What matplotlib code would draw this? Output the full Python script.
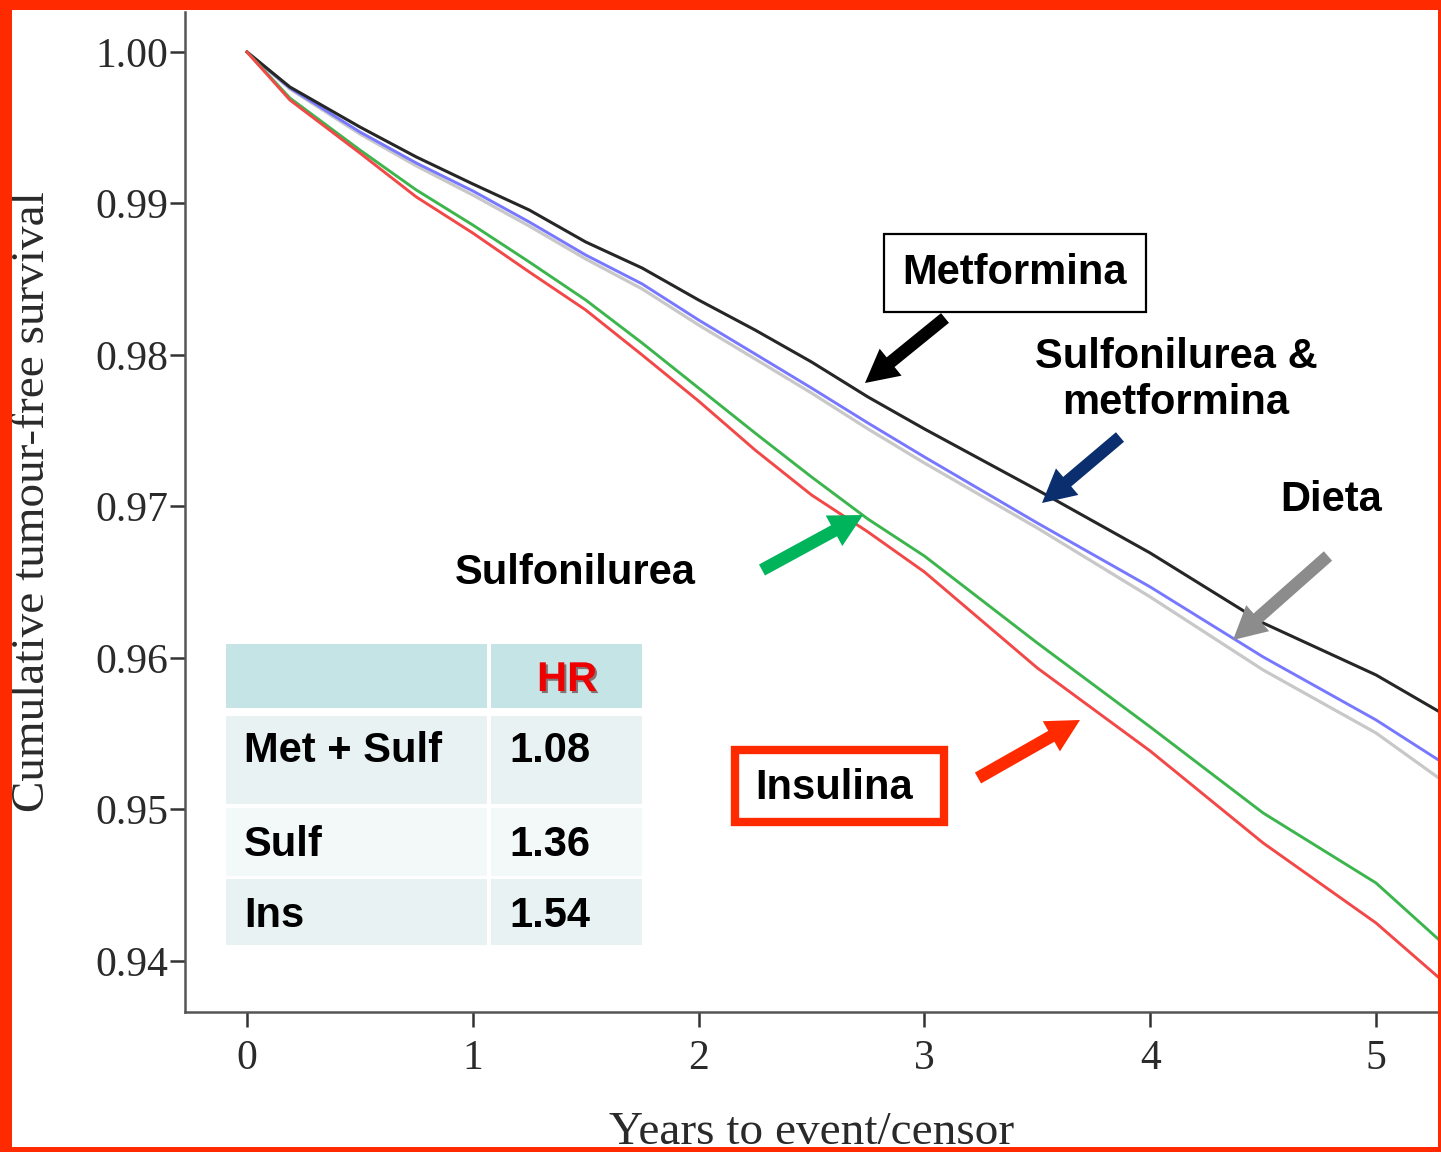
import matplotlib

matplotlib.use("Agg")

import matplotlib.pyplot as plt
import matplotlib.patheffects as pe
from matplotlib.patches import Rectangle

# survival
years = [0.0, 0.19, 0.5, 0.75, 1.0, 1.25, 1.5, 1.75, 2.0, 2.25, 2.5, 2.75,
         3.0, 3.5, 4.0, 4.5, 5.0, 5.29]
metformina = [1.0, 0.99769, 0.99505, 0.99307, 0.99129, 0.98957, 0.98746, 0.98574,
              0.98363, 0.98165, 0.97954, 0.97723, 0.97512, 0.97109, 0.96693,
              0.96231, 0.95888, 0.95637]
sulf_met = [1.0, 0.99762, 0.99472, 0.99267, 0.99083, 0.98878, 0.98660, 0.98469,
            0.98231, 0.98007, 0.97782, 0.97551, 0.97327, 0.96891, 0.96469,
            0.96007, 0.95591, 0.95314]
dieta = [1.0, 0.99756, 0.99459, 0.99248, 0.99056, 0.98851, 0.98634, 0.98436,
         0.98198, 0.97974, 0.97749, 0.97512, 0.97287, 0.96858, 0.96403,
         0.95921, 0.95505, 0.95195]
sulfonilurea = [1.0, 0.99696, 0.99353, 0.99089, 0.98858, 0.98614, 0.98363, 0.98079,
                0.97782, 0.97485, 0.97195, 0.96917, 0.96673, 0.96099, 0.95545,
                0.94977, 0.94515, 0.94125]
insulina = [1.0, 0.99683, 0.99333, 0.99043, 0.98805, 0.98548, 0.98297, 0.98000,
            0.97696, 0.97373, 0.97076, 0.96832, 0.96568, 0.95934, 0.95386,
            0.94779, 0.94251, 0.93875]

y_ticks = [0.94, 0.95, 0.96, 0.97, 0.98, 0.99, 1.00]
x_ticks = [0, 1, 2, 3, 4, 5]

table_rows = ["Met + Sulf", "Sulf", "Ins"]
table_hr = ["1.08", "1.36", "1.54"]

W, H = 1441, 1152
SERIF = "Liberation Serif"
SANS = "Liberation Sans"


def fx(x):
    return x / W


def fy(y):
    return 1 - y / H


fig = plt.figure(figsize=(W / 100, H / 100), dpi=100)
ax = fig.add_axes([fx(185), fy(1012), fx(1441 - 185), (1012 - 12) / H])

ax.plot(years, dieta, color="#c8c8c8", lw=2.3)
ax.plot(years, sulf_met, color="#7878ff", lw=2.1)
ax.plot(years, metformina, color="#262626", lw=2.2)
ax.plot(years, sulfonilurea, color="#3db54d", lw=2.1)
ax.plot(years, insulina, color="#f24848", lw=2.1)

ax.set_xlim(-0.2746, 5.288)
ax.set_ylim(0.93663, 1.00264)
ax.set_xticks(x_ticks)
ax.set_yticks(y_ticks)
ax.set_yticklabels([f"{v:.2f}" for v in y_ticks])
for side in ("top", "right"):
    ax.spines[side].set_visible(False)
for side in ("left", "bottom"):
    ax.spines[side].set_color("#555555")
    ax.spines[side].set_linewidth(1.8)
ax.tick_params(axis="both", colors="#333333", width=1.8, length=11,
               labelsize=30, labelcolor="#2a2a2a")
ax.tick_params(axis="x", pad=9)
ax.tick_params(axis="y", pad=1)
for lab in ax.get_xticklabels() + ax.get_yticklabels():
    lab.set_family(SERIF)

fig.text(fx(33), fy(502), "Cumulative tumour-free survival", rotation=90,
         ha="center", va="center", family=SERIF, fontsize=34, color="#2a2a2a")
fig.text(fx(812), fy(1133), "Years to event/censor", ha="center", va="center",
         family=SERIF, fontsize=34, color="#2a2a2a")

# labels and arrows
bold = dict(family=SANS, fontsize=30, fontweight="bold", color="black")
fig.text(fx(1015), fy(273), "Metformina", ha="center", va="center",
         bbox=dict(boxstyle="square,pad=0.45", fc="white", ec="black", lw=1.6), **bold)
fig.text(fx(1176), fy(380), "Sulfonilurea &\nmetformina", ha="center", va="center",
         linespacing=1.2, **bold)
fig.text(fx(1331), fy(500), "Dieta", ha="center", va="center", **bold)
fig.text(fx(575), fy(573), "Sulfonilurea", ha="center", va="center", **bold)
fig.add_artist(Rectangle((fx(735), fy(822)), fx(209), (822 - 750) / H,
                         transform=fig.transFigure, fc="white", ec="#ff2a00", lw=6))
fig.text(fx(834), fy(788), "Insulina", ha="center", va="center", **bold)

arrows = [
    ((945, 318), (865, 383), "black"),
    ((1120, 437), (1042, 503), "#0b2e6f"),
    ((1328, 556), (1233, 640), "#8c8c8c"),
    ((762, 570), (863, 515), "#00b45c"),
    ((978, 778), (1080, 720), "#ff2a00"),
]
for (x0, y0), (x1, y1), col in arrows:
    ax.annotate("", xy=(fx(x1), fy(y1)), xycoords="figure fraction",
                xytext=(fx(x0), fy(y0)), textcoords="figure fraction",
                arrowprops=dict(arrowstyle="simple,head_width=1.0,head_length=0.95,tail_width=0.36",
                                mutation_scale=25, fc=col, ec=col, lw=0,
                                shrinkA=0, shrinkB=0))

# HR table
col_x = [(226, 487), (491, 642)]
row_y = [(644, 708), (716, 804), (808, 876), (879, 945)]
row_bg = ["#c5e4e6", "#e9f2f3", "#f3f8f9", "#e9f2f3"]
for (y0, y1), bg in zip(row_y, row_bg):
    for x0, x1 in col_x:
        fig.add_artist(Rectangle((fx(x0), fy(y1)), fx(x1 - x0), (y1 - y0) / H,
                                 transform=fig.transFigure, fc=bg, ec="none"))
fig.text(fx(567), fy(680), "HR", ha="center", va="center", family=SANS,
         fontsize=30, fontweight="bold", color="#ee0000",
         path_effects=[pe.SimplePatchShadow(offset=(1.5, -1.5), alpha=0.5), pe.Normal()])
label_y = [751, 845, 916]
for name, hr, yy in zip(table_rows, table_hr, label_y):
    fig.text(fx(244), fy(yy), name, ha="left", va="center", **bold)
    fig.text(fx(509), fy(yy), hr, ha="left", va="center", **bold)

# red frame around the slide
frame = "#ff2a00"
for x, y, w, h in [(0, 0, 12, H), (0, 0, W, 10), (0, H - 5, W, 5), (W - 3, 0, 3, H)]:
    fig.add_artist(Rectangle((fx(x), fy(y + h)), fx(w), h / H,
                             transform=fig.transFigure, fc=frame, ec="none", zorder=10))

fig.savefig("out.png", dpi=100)
